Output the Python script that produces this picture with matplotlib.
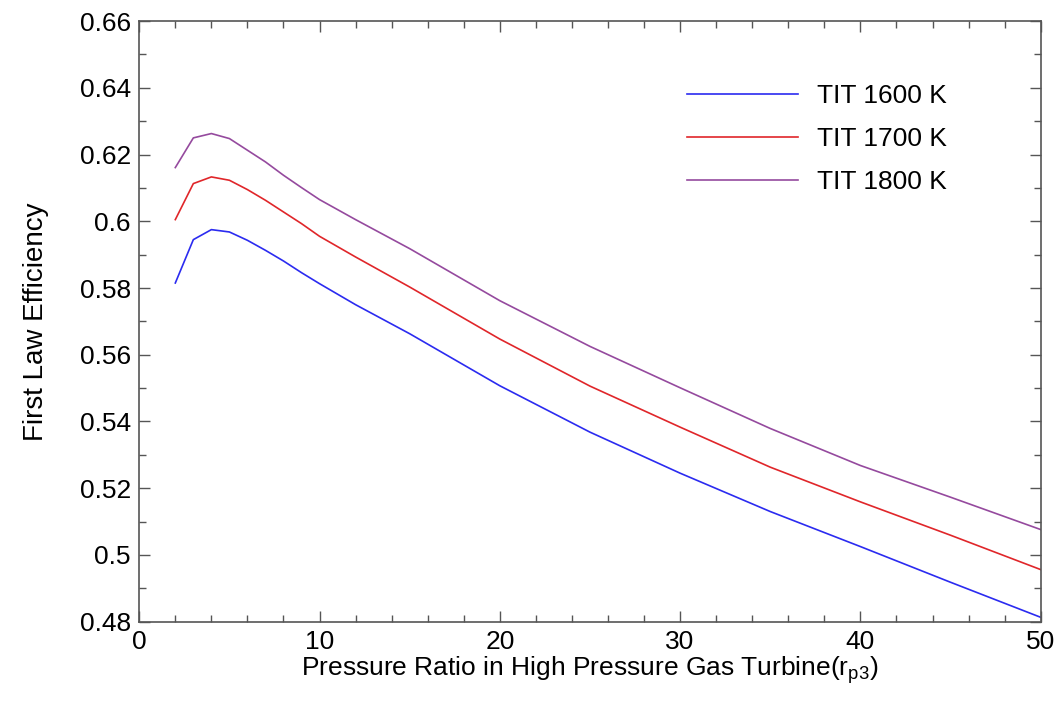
import matplotlib
matplotlib.use("Agg")
import matplotlib.pyplot as plt
from matplotlib.ticker import MultipleLocator, FuncFormatter

plt.rcParams['font.family'] = ['Liberation Sans', 'DejaVu Sans']
plt.rcParams['mathtext.fontset'] = 'custom'
plt.rcParams['mathtext.rm'] = 'Liberation Sans'
plt.rcParams['mathtext.it'] = 'Liberation Sans'

# pressure ratio r_p3
rp = [2, 3, 4, 5, 6, 7, 8, 9, 10, 12, 15, 20, 25, 30, 35, 40, 45, 50]

eff_1600 = [0.5815, 0.5945, 0.5975, 0.5968, 0.5943, 0.5913, 0.5881, 0.5846, 0.5813,
            0.5750, 0.5663, 0.5507, 0.5368, 0.5245, 0.5130, 0.5025, 0.4918, 0.4813]
eff_1700 = [0.6005, 0.6113, 0.6133, 0.6123, 0.6095, 0.6063, 0.6028, 0.5993, 0.5955,
            0.5893, 0.5803, 0.5647, 0.5506, 0.5383, 0.5263, 0.5159, 0.5059, 0.4956]
eff_1800 = [0.6161, 0.6250, 0.6263, 0.6248, 0.6213, 0.6178, 0.6138, 0.6101, 0.6065,
            0.6005, 0.5918, 0.5762, 0.5625, 0.5501, 0.5379, 0.5268, 0.5173, 0.5076]

labels = ['TIT 1600 K', 'TIT 1700 K', 'TIT 1800 K']

fig = plt.figure(figsize=(10.63, 7.04), dpi=100)
ax = fig.add_axes([0.131, 0.117, 0.848, 0.853])

ax.plot(rp, eff_1600, color='#2b2bf0', lw=1.2, label=labels[0])
ax.plot(rp, eff_1700, color='#e0262a', lw=1.2, label=labels[1])
ax.plot(rp, eff_1800, color='#954a9e', lw=1.2, label=labels[2])

ax.set_xlim(0, 50)
ax.set_ylim(0.48, 0.66)
ax.xaxis.set_major_locator(MultipleLocator(10))
ax.xaxis.set_minor_locator(MultipleLocator(2))
ax.yaxis.set_major_locator(MultipleLocator(0.02))
ax.yaxis.set_minor_locator(MultipleLocator(0.01))
ax.yaxis.set_major_formatter(FuncFormatter(lambda v, p: '%g' % round(v, 2)))

ax.tick_params(which='both', direction='in', top=True, right=True, color='#555555',
               labelsize=19, width=1)
ax.tick_params(which='major', length=8, pad=6)
ax.tick_params(which='minor', length=5)
for s in ax.spines.values():
    s.set_color('#555555')
    s.set_linewidth(1.2)

ax.set_xlabel('Pressure Ratio in High Pressure Gas Turbine(r$_{\\mathrm{p3}}$)', fontsize=19, labelpad=0)
ax.set_ylabel('First Law Efficiency', fontsize=20, labelpad=22)

ax.legend(loc='upper left', bbox_to_anchor=(0.584, 0.93), frameon=False, fontsize=19,
          handlelength=4.2, handletextpad=0.75, labelspacing=0.72, borderpad=0.3)

fig.savefig('out.png', dpi=100)
